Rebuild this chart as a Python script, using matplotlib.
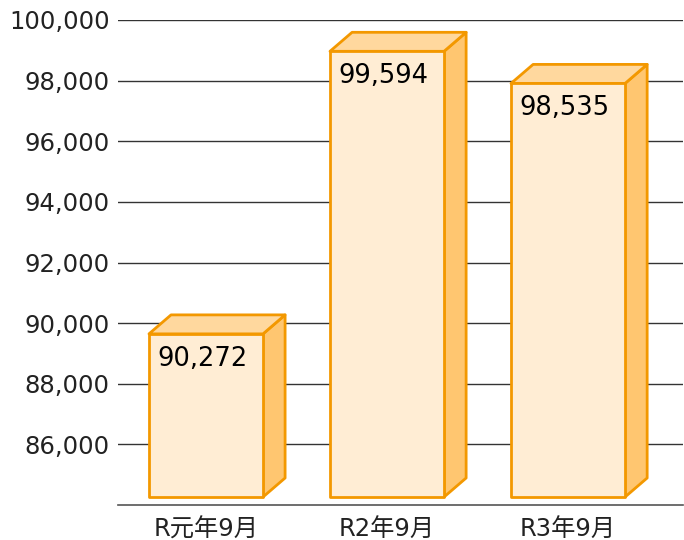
import matplotlib
matplotlib.use("Agg")
import matplotlib.pyplot as plt
from matplotlib.patches import Polygon

plt.rcParams['font.family'] = ['DejaVu Sans', 'Noto Sans CJK JP']

categories = ['R元年9月', 'R2年9月', 'R3年9月']
values = [90272, 99594, 98535]
yticks = [86000, 88000, 90000, 92000, 94000, 96000, 98000, 100000]

edge = '#F39800'
front_c = '#FFEDD4'
top_c = '#FFD89E'
side_c = '#FFC670'

fig = plt.figure(figsize=(6.84, 5.4), dpi=100)
ax = fig.add_axes([118 / 684, 35 / 540, 565 / 684, 485 / 540])
ax.set_xlim(-0.486, 2.635)
ax.set_ylim(84000, 100000)

half = 0.315      # half width of front face
dx = 0.122        # depth offset in x
dy = 627          # depth offset in y
floor = 84264     # bottom of front face

for i, v in enumerate(values):
    x0, x1 = i - half, i + half
    top = v - dy
    front = Polygon([(x0, floor), (x1, floor), (x1, top), (x0, top)],
                    closed=True, fc=front_c, ec=edge, lw=2, zorder=3, joinstyle='round')
    roof = Polygon([(x0, top), (x1, top), (x1 + dx, v), (x0 + dx, v)],
                   closed=True, fc=top_c, ec=edge, lw=2, zorder=3, joinstyle='round')
    side = Polygon([(x1, floor), (x1 + dx, floor + dy), (x1 + dx, v), (x1, top)],
                   closed=True, fc=side_c, ec=edge, lw=2, zorder=3, joinstyle='round')
    for p in (side, roof, front):
        ax.add_patch(p)
    ax.annotate(f'{v:,}', (x0, top), xytext=(6, -8.5), textcoords='offset points',
                ha='left', va='top', fontsize=18.5, color='black', zorder=4)

ax.set_yticks(yticks)
ax.set_yticklabels([f'{t:,}' for t in yticks])
ax.set_xticks(range(len(categories)))
ax.set_xticklabels(categories)
ax.tick_params(axis='both', length=0, labelsize=17.5, colors='#222222')
ax.tick_params(axis='y', pad=6)
ax.tick_params(axis='x', pad=9)

ax.grid(axis='y', color='#333333', lw=1)
ax.set_axisbelow(True)
for s in ('top', 'right', 'left'):
    ax.spines[s].set_visible(False)
ax.spines['bottom'].set_color('#555555')
ax.spines['bottom'].set_linewidth(1.2)

fig.savefig('out.png', dpi=100)
